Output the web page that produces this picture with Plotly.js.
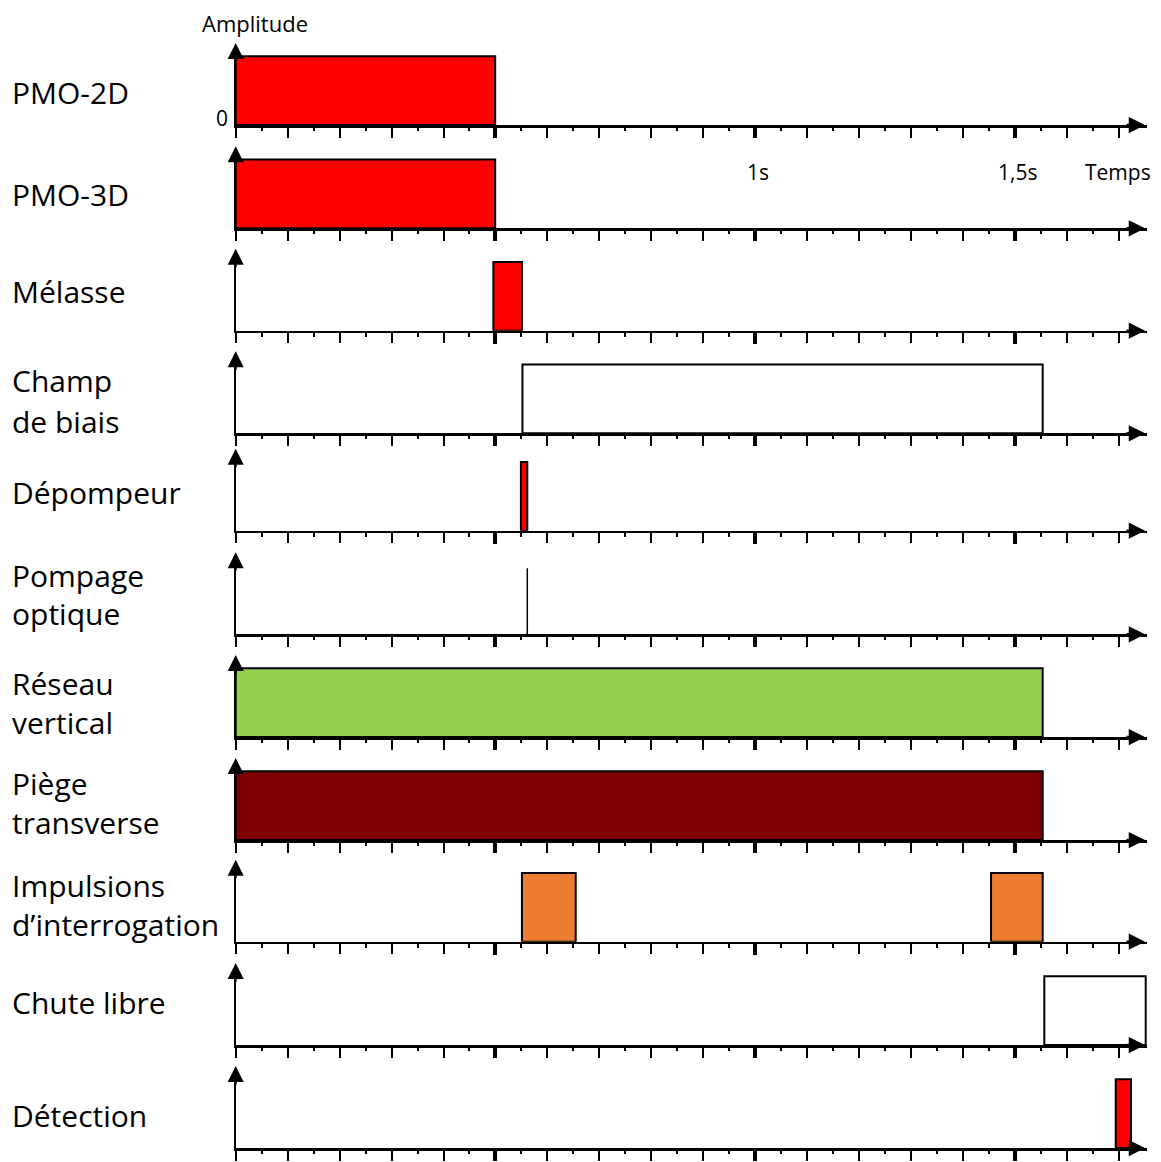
<!DOCTYPE html>
<html>
<head>
<meta charset="utf-8">
<script src="https://cdn.plot.ly/plotly-3.0.1.min.js"></script>
<style>html,body{margin:0;padding:0;background:#fff;}#chart{width:1161px;height:1162px;}</style>
</head>
<body>
<div id="chart"></div>
<script>
// ---------- DATA ----------
const rowLabels = ['PMO-2D', 'PMO-3D', 'Mélasse', 'Champ\nde biais', 'Dépompeur', 'Pompage\noptique',
  'Réseau\nvertical', 'Piège\ntransverse', 'Impulsions\nd’interrogation', 'Chute libre', 'Détection'];
// rectangular pulses (time in s, amplitude relative)
const pulseRow   = [0, 1, 2, 3, 4, 6, 7, 8, 8, 9, 10];
const pulseStart = [0, 0, 0.496, 0.552, 0.549, 0, 0, 0.551, 1.454, 1.5565, 1.694];
const pulseEnd   = [0.4995, 0.4995, 0.551, 1.5534, 0.5613, 1.5534, 1.5534, 0.6545, 1.5534, 1.7517, 1.7234];
const pulseAmp   = [1, 1, 1, 1, 1, 1, 1, 1, 1, 1, 1];
// instantaneous pulse (drawn as a line)
const spikeRow  = [5];
const spikeTime = [0.5613];
const spikeAmp  = [0.96];
// axis texts
const timeTickVals = [1, 1.5];
const timeTickText = ['1s', '1,5s'];
const xTitle = 'Temps';
const yTitle = 'Amplitude';
const zeroLabel = '0';

// ---------- STYLE / LAYOUT ----------
const rowFill = ['#FF0000', '#FF0000', '#FF0000', '#FFFFFF', '#FF0000', '#FFFFFF',
  '#92D050', '#7F0000', '#ED7D31', '#FFFFFF', '#FF0000'];
const W = 1161, H = 1162;
const x0px = 235.7, x1px = 1147, pxPerSec = 519.5;
const tMax = (x1px - x0px) / pxPerSec;
const baselines = [125, 228.3, 330.7, 433.3, 530.7, 634.3, 737, 840, 941.7, 1045, 1148];
const ampPx = 68.7, axisPx = 82;
// label line centres (px from top) for each row
const labelCenters = [[93], [194], [291], [381, 421], [492], [575, 613], [683, 722], [783, 822], [885, 925], [1002], [1115]];
const FONT = 'Open Sans, sans-serif';
const nRows = rowLabels.length;
// tick grid of the time axes: long ticks every 0.1 s, short ticks in between (up to 1.7 s)
const longTicks = [], shortTicks = [];
for (let n = 0; n <= 17; n++) longTicks.push(+(n * 0.1).toFixed(2));
for (let n = 0; n < 17; n++) shortTicks.push(+(n * 0.1 + 0.05).toFixed(2));

const traces = [];
const layout = {
  width: W, height: H,
  margin: {l: 0, r: 0, t: 0, b: 0},
  paper_bgcolor: '#fff', plot_bgcolor: 'rgba(0,0,0,0)',
  showlegend: false, barmode: 'overlay',
  font: {family: FONT, color: '#000'},
  annotations: []
};

for (let i = 0; i < nRows; i++) {
  const k = i + 1;
  const kk = i + 1 + nRows;
  const kkk = i + 1 + 2 * nRows;
  const b = baselines[i];
  layout['xaxis' + k] = {
    domain: [x0px / W, x1px / W], range: [0, tMax], anchor: 'y' + k,
    showline: true, linewidth: 2.5, linecolor: '#000',
    ticks: 'outside', tickmode: 'array', tickvals: longTicks, ticklen: 10, tickwidth: 2, tickcolor: '#000',
    showticklabels: false, showgrid: false, zeroline: false, fixedrange: true
  };
  layout['xaxis' + kk] = {
    overlaying: 'x' + k, anchor: 'y' + k, range: [0, tMax],
    showline: false, ticks: 'outside', tickmode: 'array', tickvals: [0.5, 1, 1.5],
    ticklen: 12, tickwidth: 4, tickcolor: '#000',
    showticklabels: false, showgrid: false, zeroline: false, fixedrange: true
  };
  layout['xaxis' + kkk] = {
    overlaying: 'x' + k, anchor: 'y' + k, range: [0, tMax],
    showline: false, ticks: 'outside', tickmode: 'array', tickvals: shortTicks,
    ticklen: 5, tickwidth: 2, tickcolor: '#000',
    showticklabels: false, showgrid: false, zeroline: false, fixedrange: true
  };
  layout['yaxis' + k] = {
    domain: [(H - b) / H, (H - b + axisPx - 6) / H], range: [0, (axisPx - 6) / ampPx], anchor: 'x' + k,
    showline: true, linewidth: 2, linecolor: '#000', ticks: '',
    showticklabels: false, showgrid: false, zeroline: false, fixedrange: true
  };
  traces.push({x: [], y: [], type: 'scatter', xaxis: 'x' + kk, yaxis: 'y' + k, hoverinfo: 'skip'});
  traces.push({x: [], y: [], type: 'scatter', xaxis: 'x' + kkk, yaxis: 'y' + k, hoverinfo: 'skip'});

  // pulses of this row
  const xs = [], ys = [], ws = [], bs = [];
  for (let j = 0; j < pulseRow.length; j++) {
    if (pulseRow[j] !== i) continue;
    xs.push((pulseStart[j] + pulseEnd[j]) / 2);
    ws.push(pulseEnd[j] - pulseStart[j]);
    ys.push(pulseAmp[j]);
    bs.push(0);
  }
  if (xs.length) {
    traces.push({
      type: 'bar', x: xs, y: ys, width: ws, base: bs,
      xaxis: 'x' + k, yaxis: 'y' + k, hoverinfo: 'skip', cliponaxis: false,
      marker: {color: rowFill[i], line: {color: '#000', width: 2}}
    });
  }
  for (let j = 0; j < spikeRow.length; j++) {
    if (spikeRow[j] !== i) continue;
    traces.push({
      type: 'scatter', mode: 'lines', x: [spikeTime[j], spikeTime[j]], y: [0, spikeAmp[j]],
      xaxis: 'x' + k, yaxis: 'y' + k, hoverinfo: 'skip',
      line: {color: '#000', width: 1.5}
    });
  }

  // arrow heads (tip at axis ends)
  layout.annotations.push({
    xref: 'paper', yref: 'paper', x: (x1px - 2) / W, y: (H - b) / H, ax: -20, ay: 0, text: '',
    showarrow: true, arrowhead: 2, arrowsize: 1.3, arrowwidth: 2.5, arrowcolor: '#000', standoff: 0
  });
  layout.annotations.push({
    xref: 'paper', yref: 'paper', x: x0px / W, y: (H - b + axisPx) / H, ax: 0, ay: 20, text: '',
    showarrow: true, arrowhead: 2, arrowsize: 1.6, arrowwidth: 2, arrowcolor: '#000', standoff: 0
  });

  // row label
  const lines = rowLabels[i].split('\n');
  lines.forEach((ln, li) => {
    layout.annotations.push({
      xref: 'paper', yref: 'paper', x: 10 / W, y: (H - labelCenters[i][li]) / H,
      xanchor: 'left', yanchor: 'middle', showarrow: false, text: ln,
      font: {family: FONT, size: 30, color: '#000'}
    });
  });
}

// axis texts
layout.annotations.push({
  xref: 'paper', yref: 'paper', x: 255 / W, y: (H - 23) / H, xanchor: 'center', yanchor: 'middle',
  showarrow: false, text: yTitle, font: {family: FONT, size: 22, color: '#000'}
});
layout.annotations.push({
  xref: 'paper', yref: 'paper', x: 230 / W, y: (H - 118) / H, xanchor: 'right', yanchor: 'middle',
  showarrow: false, text: zeroLabel, font: {family: FONT, size: 21, color: '#000'}
});
timeTickVals.forEach((v, i) => {
  layout.annotations.push({
    xref: 'x1', yref: 'paper', x: v, xshift: 3, y: (H - 172) / H, xanchor: 'center', yanchor: 'middle',
    showarrow: false, text: timeTickText[i], font: {family: FONT, size: 21, color: '#000'}
  });
});
layout.annotations.push({
  xref: 'paper', yref: 'paper', x: 1118 / W, y: (H - 172) / H, xanchor: 'center', yanchor: 'middle',
  showarrow: false, text: xTitle, font: {family: FONT, size: 21, color: '#000'}
});

Plotly.newPlot('chart', traces, layout, {staticPlot: true, displayModeBar: false});
</script>
</body>
</html>
